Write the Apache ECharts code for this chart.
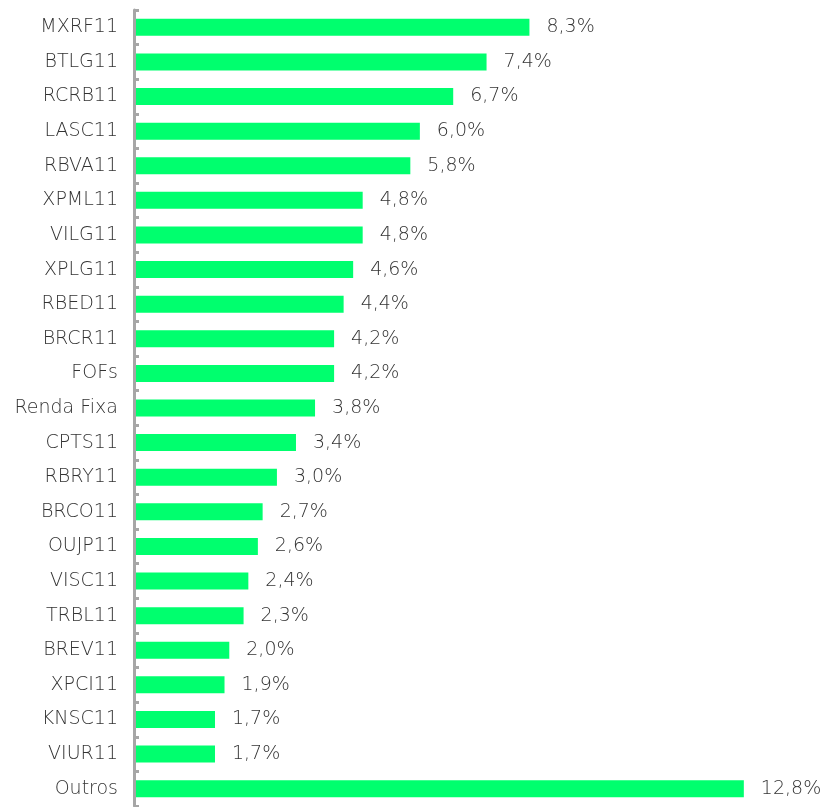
<!DOCTYPE html>
<html><head><meta charset="utf-8">
<script src="https://cdn.jsdelivr.net/npm/echarts@6/dist/echarts.min.js"></script>
<style>html,body{margin:0;padding:0;background:#fff}#c{width:821px;height:807px}</style>
</head><body><div id="c"></div>
<script>
const categories = ["MXRF11","BTLG11","RCRB11","LASC11","RBVA11","XPML11","VILG11","XPLG11","RBED11","BRCR11","FOFs","Renda Fixa","CPTS11","RBRY11","BRCO11","OUJP11","VISC11","TRBL11","BREV11","XPCI11","KNSC11","VIUR11","Outros"];
const values = [8.3,7.4,6.7,6.0,5.8,4.8,4.8,4.6,4.4,4.2,4.2,3.8,3.4,3.0,2.7,2.6,2.4,2.3,2.0,1.9,1.7,1.7,12.8];
const chart = echarts.init(document.getElementById('c'));
chart.setOption({
  animation:false,
  grid:{left:134,right:20,top:10,bottom:1,containLabel:false},
  xAxis:{type:'value',min:0,max:14,show:false},
  yAxis:{type:'category',data:categories,inverse:true,z:5,
    axisLine:{show:true,lineStyle:{color:'#A6A6A6',width:3}},
    axisTick:{show:true,inside:true,length:5,alignWithLabel:false,lineStyle:{color:'#A6A6A6',width:3}},
    axisLabel:{margin:16,fontFamily:'DejaVu Sans',fontWeight:200,fontSize:19,color:'#333333'}},
  series:[{type:'bar',data:values,barWidth:17,itemStyle:{color:'#00FF6E'},
    label:{show:true,position:'right',distance:17,fontFamily:'DejaVu Sans',fontWeight:200,fontSize:19,color:'#333333',
      formatter:p=>p.value.toFixed(1).replace('.',',')+'%'}}]
});
</script></body></html>
